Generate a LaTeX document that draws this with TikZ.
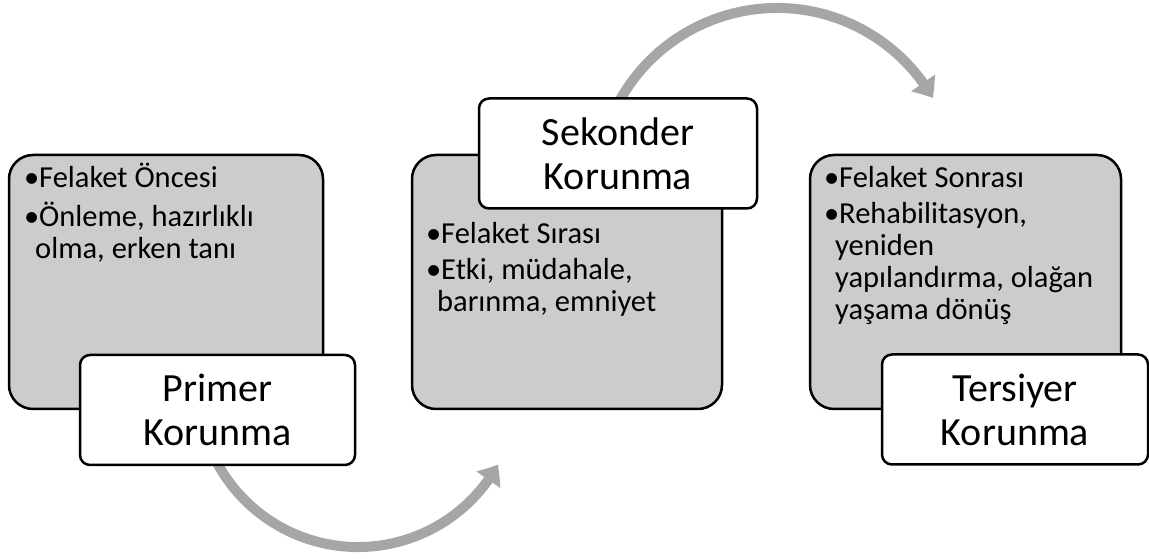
\documentclass[tikz,border=0pt]{standalone}
\usepackage{fontspec}
\setmainfont{Carlito}
\usetikzlibrary{arrows.meta,bending}
\definecolor{boxgray}{HTML}{CCCCCC}
\definecolor{arcgray}{HTML}{A6A6A6}
\newcommand{\bul}{\makebox[15pt][l]{•}}
\newcommand{\cont}{\hspace*{11pt}}
\begin{document}
\begin{tikzpicture}[x=1pt,y=1pt,
  graybox/.style={draw=black,line width=2.5pt,fill=boxgray,rounded corners=24pt,
    minimum height=254pt,inner sep=0pt},
  labelbox/.style={draw=black,line width=2.5pt,fill=white,rounded corners=10pt,
    minimum height=110pt,inner sep=0pt,align=center,
    font=\fontsize{40}{44}\selectfont},
  bullets/.style={anchor=base west,inner sep=0pt,
    font=\fontsize{30.5}{32}\selectfont},
  arcarrow/.style={draw=arcgray,line width=10pt,
    -{Triangle[width=28pt,length=18pt,bend]}}
]
\useasboundingbox (0,0) rectangle (1149,559);
\fill[white] (0,0) rectangle (1149,559);

% gray content boxes
\node[graybox,minimum width=314pt] (g1) at (166,277) {};
\node[graybox,minimum width=310pt] (g2) at (567,277) {};
\node[graybox,minimum width=311pt] (g3) at (965.5,277) {};

% curved arrows
\coordinate (c1) at (358,172);
\coordinate (c2) at (777,371);
\draw[arcarrow] ([shift={(200:160)}]c1) arc[start angle=200,end angle=331,radius=160];
\draw[arcarrow] ([shift={(152:180)}]c2) arc[start angle=152,end angle=30,radius=180];

% label boxes
\node[labelbox,minimum width=275pt] (l1) at (217.5,149) {Primer\\Korunma};
\node[labelbox,minimum width=278pt] (l2) at (618,405.5) {Sekonder\\Korunma};
\node[labelbox,minimum width=266pt] (l3) at (1015,149.5) {Tersiyer\\Korunma};

% bullet texts
\node[bullets] (t1) at (24,371) {\begin{tabular}[t]{@{}l@{}}
\bul Felaket Öncesi\\[4pt]
\bul Önleme, hazırlıklı\\
\cont olma, erken tanı
\end{tabular}};
\node[bullets] (t2) at (426,315) {\begin{tabular}[t]{@{}l@{}}
\bul Felaket Sırası\\[4pt]
\bul Etki, müdahale,\\
\cont barınma, emniyet
\end{tabular}};
\node[bullets] (t3) at (824,371) {\begin{tabular}[t]{@{}l@{}}
\bul Felaket Sonrası\\[4pt]
\bul Rehabilitasyon,\\
\cont yeniden\\
\cont yapılandırma, olağan\\
\cont yaşama dönüş
\end{tabular}};
\end{tikzpicture}
\end{document}
